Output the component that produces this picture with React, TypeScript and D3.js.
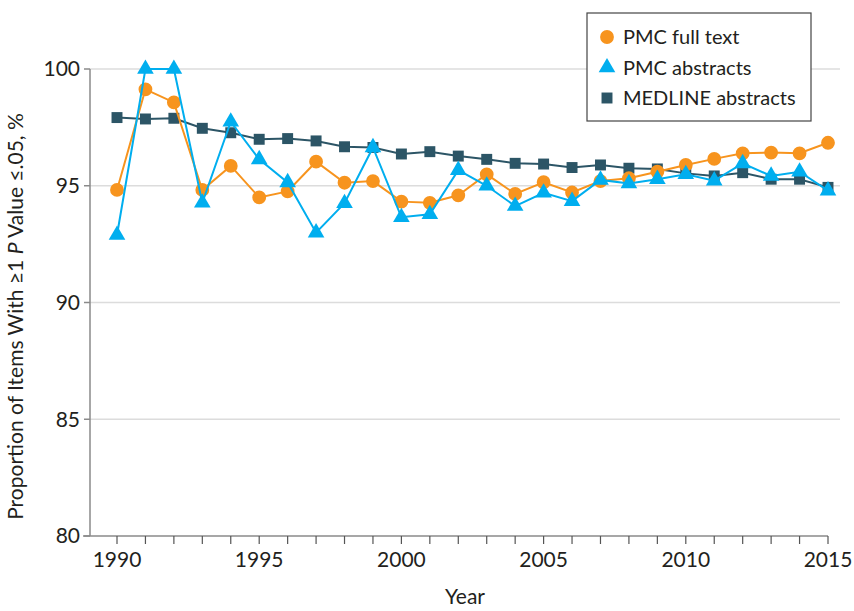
import * as d3 from "d3";

const width = 854;
const height = 611;
const marginTop = 69;
const marginLeft = 90;
const marginBottom = 75;

const years = d3.range(1990, 2016);
const yTicks = [80, 85, 90, 95, 100];
const xTicks = [1990, 1995, 2000, 2005, 2010, 2015];

const pmcFullText = [
  94.82, 99.13, 98.57, 94.82, 95.85, 94.5, 94.76, 96.03, 95.13, 95.2, 94.32,
  94.27, 94.59, 95.49, 94.65, 95.15, 94.71, 95.2, 95.32, 95.6, 95.89, 96.15,
  96.39, 96.42, 96.39, 96.84,
];
const pmcAbstracts = [
  92.89, 100, 100, 94.27, 97.74, 96.13, 95.14, 92.99, 94.25, 96.64, 93.65,
  93.78, 95.67, 95.0, 94.13, 94.7, 94.34, 95.25, 95.1, 95.28, 95.49, 95.22,
  95.96, 95.42, 95.6, 94.79,
];
const medlineAbstracts = [
  97.92, 97.86, 97.89, 97.46, 97.27, 96.99, 97.02, 96.92, 96.67, 96.64, 96.36,
  96.46, 96.27, 96.13, 95.96, 95.93, 95.78, 95.89, 95.75, 95.72, 95.53, 95.42,
  95.56, 95.28, 95.28, 94.93,
];

const seriesNames = ["PMC full text", "PMC abstracts", "MEDLINE abstracts"];
const colors = ["#F7941E", "#00AEEF", "#2C5566"];
const font = "Lato, 'Open Sans', sans-serif";
const textColor = "#231F20";

const x = d3.scaleLinear().domain([1990, 2015]).range([117, 828]);
const y = d3
  .scaleLinear()
  .domain([80, 100])
  .range([height - marginBottom, marginTop]);

const symbols = [d3.symbolCircle, d3.symbolTriangle, d3.symbolSquare];
const symbolSizes = [150, 120, 120];

const Marker = ({ i, cx, cy }: { i: number; cx: number; cy: number }) => (
  <path
    d={d3.symbol(symbols[i], symbolSizes[i])() as string}
    transform={`translate(${cx},${cy})`}
    fill={colors[i]}
  />
);

export default function App() {
  const series = [pmcFullText, pmcAbstracts, medlineAbstracts];
  const line = d3
    .line<number>()
    .x((_, i) => x(years[i]))
    .y((d) => y(d));

  const drawOrder = [2, 0, 1];

  return (
    <svg
      width={width}
      height={height}
      style={{ position: "absolute", left: 0, top: 0, background: "#fff" }}
      fontFamily={font}
    >
      {/* gridlines */}
      {yTicks.slice(1).map((t) => (
        <line
          key={t}
          x1={marginLeft}
          x2={840}
          y1={y(t)}
          y2={y(t)}
          stroke="#dcdcdc"
          strokeWidth={1.5}
        />
      ))}

      {/* axes */}
      <line x1={marginLeft} x2={marginLeft} y1={y(100)} y2={y(80)} stroke="#8a8a8a" strokeWidth={1.5} />
      <line x1={83} x2={x(2015)} y1={y(80)} y2={y(80)} stroke="#8a8a8a" strokeWidth={1.5} />
      {yTicks.map((t) => (
        <g key={t}>
          <line x1={84} x2={marginLeft} y1={y(t)} y2={y(t)} stroke="#8a8a8a" strokeWidth={1.5} />
          <text x={80} y={y(t)} dy="0.35em" textAnchor="end" fontSize={21} fill={textColor}>
            {t}
          </text>
        </g>
      ))}
      {years.map((yr) => (
        <line
          key={yr}
          x1={x(yr)}
          x2={x(yr)}
          y1={y(80)}
          y2={y(80) + 8}
          stroke="#555"
          strokeWidth={1.2}
        />
      ))}
      {xTicks.map((t) => (
        <text key={t} x={x(t)} y={567} textAnchor="middle" fontSize={21} fill={textColor}>
          {t}
        </text>
      ))}
      <text x={465} y={604} textAnchor="middle" fontSize={21} fill={textColor}>
        Year
      </text>
      <text
        transform={`translate(23,${(y(80) + y(100)) / 2 + 14}) rotate(-90)`}
        textAnchor="middle"
        fontSize={21}
        fill={textColor}
      >
        Proportion of Items With ≥1 <tspan fontStyle="italic">P</tspan> Value ≤.05, %
      </text>

      {/* series */}
      {drawOrder.map((si) => (
        <g key={si}>
          <path d={line(series[si]) as string} fill="none" stroke={colors[si]} strokeWidth={2} />
          {series[si].map((v, i) => (
            <Marker key={i} i={si} cx={x(years[i])} cy={y(v)} />
          ))}
        </g>
      ))}

      {/* legend */}
      <rect x={587} y={13} width={224} height={108} fill="#fff" stroke="#444" strokeWidth={1.2} />
      {seriesNames.map((name, i) => (
        <g key={name} transform={`translate(0,${37 + i * 30.5})`}>
          <Marker i={i} cx={607} cy={0} />
          <text x={623} y={0} dy="0.35em" fontSize={20} fill={textColor}>
            {name}
          </text>
        </g>
      ))}
    </svg>
  );
}
